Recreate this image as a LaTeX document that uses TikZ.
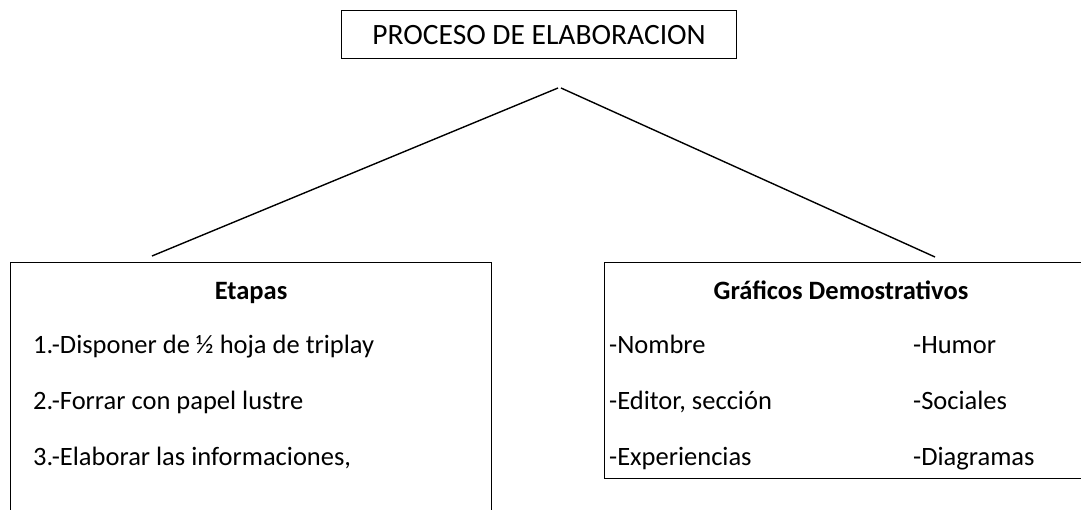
\documentclass[tikz,border=0pt]{standalone}
\usepackage{fontspec}
\setmainfont{Carlito}
\usetikzlibrary{calc}

\begin{document}
\begin{tikzpicture}[x=1pt, y=-1pt, every node/.style={font=\fontsize{26.5}{30}\selectfont}]
    \tikzstyle{frame} = [draw, line width=1.2pt, rectangle, anchor=north west, inner sep=0pt]
    \tikzstyle{item} = [anchor=base west, inner sep=0pt]
    \tikzstyle{head} = [anchor=base, inner sep=0pt, font=\fontsize{26.5}{30}\selectfont\bfseries]
    \tikzstyle{branch} = [line width=1.4pt]

    \useasboundingbox (0,0) rectangle (1081,510);
    \clip (0,0) rectangle (1081,510);

    % Title ---------------------------------------------
    \node (title) at (341,10) [frame, minimum width=395pt, minimum height=48pt,
        font=\fontsize{29.5}{34}\selectfont] {PROCESO DE ELABORACION};

    % Branches
    \coordinate (apexL) at (558,88);
    \coordinate (apexR) at (561,88);
    \coordinate (footL) at (152,256);
    \coordinate (footR) at (935,257);
    \draw [branch] (apexL) -- (footL);
    \draw [branch] (apexR) -- (footR);

    % Etapas --------------------------------------------
    \node (E) at (10,262) [frame, minimum width=481pt, minimum height=320pt] {};
    \node (E0) at ($(E.north) + (0, 38)$) [head] {Etapas};
    \node (E1) at ($(E.north west) + (23, 91)$) [item] {1.-Disponer de ½ hoja de triplay};
    \node (E2) at ($(E1.base west) + (0, 56)$) [item] {2.-Forrar con papel lustre};
    \node (E3) at ($(E2.base west) + (0, 56)$) [item] {3.-Elaborar las informaciones,};

    % Graficos ------------------------------------------
    \node (G) at (604,262) [frame, minimum width=480pt, minimum height=216pt] {};
    \node (G0) at ($(G.north west) + (237, 38)$) [head] {Gráficos Demostrativos};
    \node (G1) at ($(G.north west) + (5, 91)$) [item] {-Nombre};
    \node (G2) at ($(G1.base west) + (0, 56)$) [item] {-Editor, sección};
    \node (G3) at ($(G2.base west) + (0, 56)$) [item] {-Experiencias};
    \node (H1) at ($(G1.base west) + (304, 0)$) [item] {-Humor};
    \node (H2) at ($(H1.base west) + (0, 56)$) [item] {-Sociales};
    \node (H3) at ($(H2.base west) + (0, 56)$) [item] {-Diagramas};
\end{tikzpicture}
\end{document}
